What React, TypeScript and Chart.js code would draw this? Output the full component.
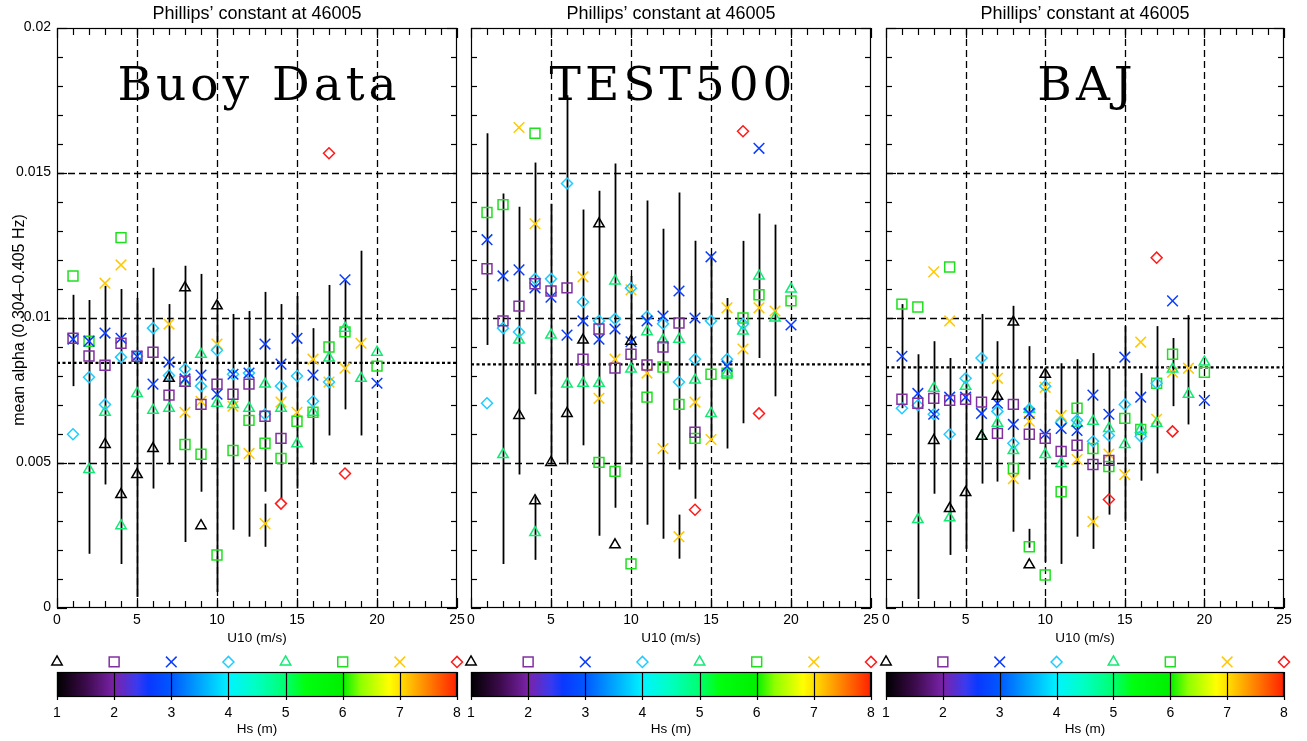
import React, { useEffect, useRef } from "react";
import { Chart, registerables } from "chart.js";

Chart.register(...registerables);

type P = [number, number];
type Bar = [number, number, number];

// ---------------- DATA ----------------
const U10_TICKS = [0, 5, 10, 15, 20, 25];
const U10_GRID = [5, 10, 15, 20];
const ALPHA_TICKS = [0, 0.005, 0.01, 0.015, 0.02];
const ALPHA_TICK_LABELS = ["0", "0.005", "0.01", "0.015", "0.02"];
const ALPHA_GRID = [0.005, 0.01, 0.015];
const HS_LEVELS = [1, 2, 3, 4, 5, 6, 7, 8];
const HS_TICK_LABELS = ["1", "2", "3", "4", "5", "6", "7", "8"];
const PANEL_TITLE = "Phillips\u2019 constant at 46005";

// Buoy Data
const buoyHs1: P[] = [[3,0.00564],[4,0.00391],[5,0.0046],[6,0.0055],[7,0.00792],[8,0.01104],[9,0.00284],[10,0.01042]];
const buoyHs2: P[] = [[1,0.0093],[2,0.00869],[3,0.00837],[4,0.00913],[5,0.00868],[6,0.00882],[7,0.00734],[8,0.00782],[9,0.00702],[10,0.00772],[11,0.00737],[12,0.00772],[13,0.00661],[14,0.00585]];
const buoyHs3: P[] = [[1,0.00927],[2,0.0092],[3,0.00948],[4,0.0093],[5,0.00868],[6,0.00772],[7,0.00848],[8,0.0079],[9,0.00803],[10,0.00737],[11,0.00806],[12,0.0081],[13,0.0091],[14,0.00841],[15,0.0093],[16,0.00803],[18,0.01132],[20,0.00775]];
const buoyHs4: P[] = [[1,0.00599],[2,0.00796],[3,0.00702],[4,0.00865],[5,0.00868],[6,0.00965],[7,0.00802],[8,0.00824],[9,0.00765],[10,0.00889],[11,0.00806],[12,0.0081],[13,0.00668],[14,0.00765],[15,0.008],[16,0.00713],[17,0.00779]];
const buoyHs5: P[] = [[2,0.00478],[3,0.00675],[4,0.00284],[5,0.0074],[6,0.00682],[7,0.00689],[8,0.00775],[9,0.00875],[10,0.00706],[11,0.00702],[12,0.00689],[13,0.00772],[14,0.00689],[15,0.00566],[16,0.00675],[17,0.00862],[18,0.00965],[19,0.00792],[20,0.00882]];
const buoyHs6: P[] = [[1,0.01145],[2,0.0092],[4,0.01277],[8,0.00564],[9,0.0053],[10,0.00183],[11,0.00543],[12,0.00647],[13,0.00568],[14,0.00516],[15,0.00644],[16,0.00675],[17,0.009],[18,0.00952],[20,0.00834]];
const buoyHs7: P[] = [[3,0.0112],[4,0.01183],[7,0.00979],[8,0.00675],[9,0.00713],[10,0.0091],[11,0.00696],[12,0.00533],[13,0.00291],[14,0.0071],[15,0.00675],[16,0.00858],[17,0.00779],[18,0.00827],[19,0.00913]];
const buoyHs8: P[] = [[14,0.0036],[17,0.01568],[18,0.00464]];
const buoyBars: Bar[] = [[1,0.00765,0.0108],[2,0.00187,0.01062],[3,0.00426,0.01111],[4,0.00152,0.011],[5,0.00038,0.01069],[6,0.00412,0.01173],[7,0.00495,0.01048],[8,0.00228,0.0118],[9,0.00401,0.01152],[10,0.00055,0.01059],[11,0.0027,0.01014],[12,0.00246,0.01024],[13,0.00401,0.0109],[14,0.00377,0.01048],[15,0.00412,0.01076],[16,0.00495,0.00965],[17,0.00595,0.01114],[18,0.00685,0.01131],[19,0.00595,0.01232]];
const buoyBarsExtra: Bar[] = [[13,0.00211,0.0036]];
const buoyMean = 0.00845;

// TEST500
const testHs1: P[] = [[3,0.00664],[4,0.0037],[5,0.00502],[6,0.00671],[7,0.00924],[8,0.01325],[9,0.00218],[10,0.0092]];
const testHs2: P[] = [[1,0.0117],[2,0.0099],[3,0.01041],[4,0.01118],[5,0.01093],[6,0.01104],[7,0.00858],[8,0.00962],[9,0.00827],[10,0.00875],[11,0.00838],[12,0.009],[13,0.00983],[14,0.00606]];
const testHs3: P[] = [[1,0.0127],[2,0.01145],[3,0.01166],[4,0.01104],[5,0.01072],[6,0.00941],[7,0.0099],[8,0.00927],[9,0.00962],[10,0.00918],[11,0.0099],[12,0.01007],[13,0.01093],[14,0.01],[15,0.01211],[16,0.00834],[18,0.01585],[20,0.00976]];
const testHs4: P[] = [[1,0.00706],[2,0.00965],[3,0.00952],[4,0.01135],[5,0.01135],[6,0.01464],[7,0.01055],[8,0.0099],[9,0.00997],[10,0.01103],[11,0.01005],[12,0.0098],[13,0.00779],[14,0.00858],[15,0.0099],[16,0.00858],[17,0.0098]];
const testHs5: P[] = [[2,0.00529],[3,0.00924],[4,0.0026],[5,0.00941],[6,0.00772],[7,0.00775],[8,0.00775],[9,0.01128],[10,0.00824],[11,0.00953],[12,0.00924],[13,0.00927],[14,0.00786],[15,0.00671],[16,0.0081],[17,0.00955],[18,0.01145],[19,0.01],[20,0.011]];
const testHs6: P[] = [[1,0.01364],[2,0.01391],[4,0.01637],[8,0.00502],[9,0.00471],[10,0.00152],[11,0.00727],[12,0.00831],[13,0.00702],[14,0.00585],[15,0.00806],[16,0.0081],[17,0.01],[18,0.0108],[20,0.01059]];
const testHs7: P[] = [[3,0.01657],[4,0.01325],[7,0.01142],[8,0.00723],[9,0.00858],[10,0.01097],[11,0.0081],[12,0.0055],[13,0.00246],[14,0.0071],[15,0.00581],[16,0.01035],[17,0.00893],[18,0.01035],[19,0.01024]];
const testHs8: P[] = [[14,0.00339],[17,0.01644],[18,0.00671]];
const testBars: Bar[] = [[1,0.00907,0.01637],[2,0.00152,0.01429],[3,0.0046,0.01384],[4,0.00737,0.01536],[5,0.00495,0.01394],[6,0.00495,0.01768],[7,0.00561,0.01374],[8,0.00249,0.01439],[9,0.00346,0.01533],[10,0.00495,0.01145],[11,0.00287,0.01405],[12,0.00239,0.01308],[13,0.00478,0.01433],[14,0.00377,0.01266],[15,0.00574,0.01221],[16,0.0055,0.01069],[17,0.00637,0.01266],[18,0.00862,0.0136],[19,0.0073,0.01322]];
const testBarsExtra: Bar[] = [[4,0.00166,0.00384],[13,0.0017,0.00322]];
const testMean = 0.0084;

// BAJ
const bajHs1: P[] = [[3,0.00578],[4,0.00343],[5,0.00398],[6,0.00592],[7,0.0073],[8,0.00986],[9,0.00149],[10,0.00806]];
const bajHs2: P[] = [[1,0.0072],[2,0.00706],[3,0.00723],[4,0.00716],[5,0.0072],[6,0.0071],[7,0.00602],[8,0.00702],[9,0.00599],[10,0.00585],[11,0.0054],[12,0.00561],[13,0.00495],[14,0.00509]];
const bajHs3: P[] = [[1,0.00868],[2,0.0074],[3,0.00668],[4,0.00727],[5,0.00727],[6,0.00671],[7,0.00706],[8,0.00633],[9,0.00671],[10,0.00599],[11,0.00619],[12,0.00612],[13,0.00734],[14,0.00668],[15,0.00865],[16,0.00727],[18,0.01059],[20,0.00716]];
const bajHs4: P[] = [[1,0.00689],[2,0.00699],[3,0.00668],[4,0.00599],[5,0.00792],[6,0.00862],[7,0.00678],[8,0.00568],[9,0.00685],[10,0.00765],[11,0.0064],[12,0.00647],[13,0.00575],[14,0.00595],[15,0.00702],[16,0.00592],[17,0.00775]];
const bajHs5: P[] = [[2,0.00305],[3,0.00758],[4,0.00311],[5,0.00765],[6,0.00592],[7,0.00637],[8,0.00543],[9,0.00685],[10,0.00529],[11,0.00498],[12,0.00637],[13,0.00644],[14,0.00619],[15,0.00564],[16,0.00616],[17,0.00637],[18,0.00824],[19,0.00737],[20,0.00848]];
const bajHs6: P[] = [[1,0.01048],[2,0.01038],[4,0.01176],[8,0.00481],[9,0.00211],[10,0.00114],[11,0.00401],[12,0.00689],[13,0.0055],[14,0.00488],[15,0.00654],[16,0.00616],[17,0.00775],[18,0.00875],[20,0.00813]];
const bajHs7: P[] = [[3,0.01159],[4,0.0099],[7,0.00792],[8,0.00446],[9,0.00644],[10,0.00761],[11,0.00664],[12,0.00512],[13,0.00298],[14,0.00531],[15,0.0046],[16,0.00917],[17,0.00651],[18,0.00813],[19,0.00827]];
const bajHs8: P[] = [[14,0.00374],[17,0.01208],[18,0.00609]];
const bajBars: Bar[] = [[1,0.00689,0.01048],[2,0.00031,0.00875],[3,0.00394,0.0092],[4,0.00183,0.00862],[5,0.00204,0.00806],[6,0.00429,0.01014],[7,0.00436,0.0092],[8,0.00263,0.01042],[9,0.00443,0.00903],[10,0.00159,0.00817],[11,0.00152,0.00844],[12,0.00246,0.00858],[13,0.00204,0.00879],[14,0.00322,0.00827],[15,0.00298,0.00972],[16,0.00439,0.0081],[17,0.00464,0.00972],[18,0.00696,0.00931],[19,0.00633,0.0101]];
const bajBarsExtra: Bar[] = [[9,0.00208,0.00273]];
const bajMean = 0.0083;

// ---------------- STYLE ----------------
const W = 1307;
const H = 741;
const PLOT_TOP = 28;
const PLOT_BOTTOM = 608;
const CBAR_AREA_TOP = 650;
const CBAR_BOTTOM = 696;
const CBAR_HEIGHT = 24;
const SANS = '"Liberation Sans", Arial, Helvetica, sans-serif';

const HS_COLORS = ["#000000", "#8030a0", "#0a3cff", "#20ccff", "#12ea74", "#1ee01e", "#ffc800", "#ff1a1a"];
const HS_SHAPES = ["triangle", "rect", "crossRot", "rectRot", "triangle", "rect", "crossRot", "rectRot"];
const HS_RADII = [6, 7, 7.5, 5.5, 6, 7, 7.5, 5.5];

const PANELS = [
  { name: "Buoy Data", left: 57, right: 457, series: [buoyHs1, buoyHs2, buoyHs3, buoyHs4, buoyHs5, buoyHs6, buoyHs7, buoyHs8], bars: buoyBars, extra: buoyBarsExtra, mean: buoyMean, yLabels: true },
  { name: "TEST500", left: 471, right: 871, series: [testHs1, testHs2, testHs3, testHs4, testHs5, testHs6, testHs7, testHs8], bars: testBars, extra: testBarsExtra, mean: testMean, yLabels: false },
  { name: "BAJ", left: 886, right: 1284, series: [bajHs1, bajHs2, bajHs3, bajHs4, bajHs5, bajHs6, bajHs7, bajHs8], bars: bajBars, extra: bajBarsExtra, mean: bajMean, yLabels: false },
];

type Panel = (typeof PANELS)[number];

function line(ctx: CanvasRenderingContext2D, x1: number, y1: number, x2: number, y2: number) {
  ctx.beginPath();
  ctx.moveTo(x1, y1);
  ctx.lineTo(x2, y2);
  ctx.stroke();
}

function makePanelPlugin(p: Panel) {
  return {
    id: "panelDecor",
    beforeDatasetsDraw(chart: any) {
      const ctx: CanvasRenderingContext2D = chart.ctx;
      const xs = chart.scales.x;
      const ys = chart.scales.y;
      const { left, right, top, bottom } = chart.chartArea;
      ctx.save();
      ctx.strokeStyle = "#000";
      ctx.lineWidth = 1.3;
      ctx.setLineDash([7, 4]);
      for (const g of U10_GRID) {
        const px = Math.round(xs.getPixelForValue(g)) + 0.5;
        line(ctx, px, top, px, bottom);
      }
      for (const g of ALPHA_GRID) {
        const py = Math.round(ys.getPixelForValue(g)) + 0.5;
        line(ctx, left, py, right, py);
      }
      ctx.setLineDash([3, 2.5]);
      ctx.lineWidth = 2.2;
      const my = ys.getPixelForValue(p.mean);
      line(ctx, left, my, right, my);
      ctx.setLineDash([]);
      ctx.lineWidth = 1.8;
      for (const [x, lo, hi] of [...p.bars, ...p.extra]) {
        const px = Math.round(xs.getPixelForValue(x)) + 0.5;
        line(ctx, px, ys.getPixelForValue(lo), px, ys.getPixelForValue(hi));
      }
      ctx.restore();
    },
    afterDraw(chart: any) {
      const ctx: CanvasRenderingContext2D = chart.ctx;
      const xs = chart.scales.x;
      const ys = chart.scales.y;
      const { left, right, top, bottom } = chart.chartArea;
      ctx.save();
      ctx.strokeStyle = "#000";
      ctx.lineWidth = 1.2;
      ctx.strokeRect(left + 0.5, top + 0.5, right - left - 1, bottom - top - 1);
      for (let v = 0; v <= 25; v++) {
        const len = v % 5 === 0 ? 10 : 7;
        const px = Math.round(xs.getPixelForValue(v)) + 0.5;
        line(ctx, px, bottom, px, bottom - len);
        line(ctx, px, top, px, top + len);
      }
      for (let i = 0; i <= 20; i++) {
        const v = i * 0.001;
        const len = i % 5 === 0 ? 10 : 6;
        const py = Math.round(ys.getPixelForValue(v)) + 0.5;
        line(ctx, left, py, left + len, py);
        line(ctx, right, py, right - len, py);
      }
      ctx.fillStyle = "#000";
      ctx.font = `14px ${SANS}`;
      ctx.textAlign = "center";
      ctx.textBaseline = "middle";
      U10_TICKS.forEach((v) => ctx.fillText(String(v), xs.getPixelForValue(v), 620));
      ctx.font = `13.5px ${SANS}`;
      ctx.fillText("U10 (m/s)", (left + right) / 2, 638);
      ctx.font = `18px ${SANS}`;
      ctx.fillText(PANEL_TITLE, (left + right) / 2, 14);
      if (p.yLabels) {
        ctx.font = `14px ${SANS}`;
        ctx.textAlign = "right";
        ALPHA_TICKS.forEach((v, i) => ctx.fillText(ALPHA_TICK_LABELS[i], left - 6, ys.getPixelForValue(v) - 1));
        ctx.save();
        ctx.translate(20, 320);
        ctx.rotate(-Math.PI / 2);
        ctx.textAlign = "center";
        ctx.font = `16px ${SANS}`;
        ctx.fillText("mean alpha (0.304\u20130.405 Hz)", 0, 0);
        ctx.restore();
      }
      ctx.font = `47px "DejaVu Serif", "Liberation Serif", serif`;
      ctx.textAlign = "center";
      ctx.textBaseline = "alphabetic";
      try { (ctx as any).letterSpacing = "4px"; } catch (e) {}
      ctx.fillText(p.name, (left + right) / 2 + 2, 100);
      try { (ctx as any).letterSpacing = "0px"; } catch (e) {}
      ctx.restore();
    },
  };
}

const CBAR_STOPS: [number, string][] = [
  [0, "#000000"], [0.07, "#3a0a48"], [0.143, "#7a22a8"], [0.2, "#3a3af0"], [0.23, "#0a38ff"],
  [0.286, "#0058ff"], [0.43, "#00f4ff"], [0.5, "#00ffc0"], [0.571, "#00ff70"], [0.62, "#00ff10"],
  [0.714, "#00f000"], [0.76, "#90ff00"], [0.83, "#ffff00"], [0.857, "#ffe000"], [1, "#ff2000"],
];

const cbarPlugin = {
  id: "cbarDecor",
  beforeDatasetsDraw(chart: any) {
    const ctx: CanvasRenderingContext2D = chart.ctx;
    const xs = chart.scales.x;
    const ys = chart.scales.y;
    const x1 = xs.getPixelForValue(1);
    const x8 = xs.getPixelForValue(8);
    const yT = ys.getPixelForValue(1);
    const yB = ys.getPixelForValue(0);
    ctx.save();
    const g = ctx.createLinearGradient(x1, 0, x8, 0);
    CBAR_STOPS.forEach(([t, c]) => g.addColorStop(t, c));
    ctx.fillStyle = g;
    ctx.fillRect(x1, yT, x8 - x1, yB - yT);
    ctx.strokeStyle = "#000";
    ctx.lineWidth = 1.2;
    for (const v of HS_LEVELS) {
      const px = Math.round(xs.getPixelForValue(v)) + 0.5;
      line(ctx, px, yT, px, yB + 4);
    }
    ctx.strokeRect(x1 + 0.5, yT + 0.5, x8 - x1 - 1, yB - yT);
    ctx.fillStyle = "#000";
    ctx.font = `14px ${SANS}`;
    ctx.textAlign = "center";
    ctx.textBaseline = "middle";
    HS_LEVELS.forEach((v, i) => ctx.fillText(HS_TICK_LABELS[i], xs.getPixelForValue(v), yB + 17));
    ctx.font = `13.5px ${SANS}`;
    ctx.fillText("Hs (m)", (x1 + x8) / 2, yB + 33);
    ctx.restore();
  },
};

function pointDataset(pts: P[], i: number) {
  return {
    data: pts.map(([x, y]) => ({ x, y })),
    pointStyle: HS_SHAPES[i] as any,
    pointRadius: HS_RADII[i],
    pointBorderWidth: 1.5,
    pointBorderColor: HS_COLORS[i],
    pointBackgroundColor: "rgba(0,0,0,0)",
    borderColor: HS_COLORS[i],
    backgroundColor: "rgba(0,0,0,0)",
    showLine: false,
    clip: false as any,
  };
}

function PanelChart({ p }: { p: Panel }) {
  const ref = useRef<HTMLCanvasElement>(null);
  useEffect(() => {
    if (!ref.current) return;
    const chart = new Chart(ref.current, {
      type: "scatter",
      data: { datasets: p.series.map((s, i) => pointDataset(s, i)) as any },
      options: {
        responsive: false,
        animation: false,
        events: [],
        layout: { padding: { left: p.left, right: W - p.right, top: PLOT_TOP, bottom: H - PLOT_BOTTOM } },
        scales: {
          x: { type: "linear", min: 0, max: 25, display: false },
          y: { type: "linear", min: 0, max: 0.02, display: false },
        },
        plugins: { legend: { display: false }, tooltip: { enabled: false } },
      },
      plugins: [makePanelPlugin(p)],
    });
    return () => chart.destroy();
  }, [p]);
  return <canvas ref={ref} width={W} height={H} style={{ position: "absolute", left: 0, top: 0, width: W, height: H }} />;
}

// colour bar: y = 0..1 is the bar itself, marker row sits above it
const CBAR_Y_MAX = (CBAR_BOTTOM - CBAR_AREA_TOP) / CBAR_HEIGHT;
const CBAR_MARKER_Y = 1.42;

function ColorBar({ p }: { p: Panel }) {
  const ref = useRef<HTMLCanvasElement>(null);
  useEffect(() => {
    if (!ref.current) return;
    const chart = new Chart(ref.current, {
      type: "scatter",
      data: {
        datasets: HS_LEVELS.map((lv, i) => pointDataset([[lv, CBAR_MARKER_Y]], i)) as any,
      },
      options: {
        responsive: false,
        animation: false,
        events: [],
        layout: { padding: { left: p.left, right: W - p.right, top: CBAR_AREA_TOP, bottom: H - CBAR_BOTTOM } },
        scales: {
          x: { type: "linear", min: 1, max: 8, display: false },
          y: { type: "linear", min: 0, max: CBAR_Y_MAX, display: false },
        },
        plugins: { legend: { display: false }, tooltip: { enabled: false } },
      },
      plugins: [cbarPlugin],
    });
    return () => chart.destroy();
  }, [p]);
  return <canvas ref={ref} width={W} height={H} style={{ position: "absolute", left: 0, top: 0, width: W, height: H }} />;
}

export default function App() {
  return (
    <div style={{ position: "absolute", left: 0, top: 0, width: W, height: H, background: "#fff", overflow: "hidden" }}>
      {PANELS.map((p) => (
        <React.Fragment key={p.name}>
          <PanelChart p={p} />
          <ColorBar p={p} />
        </React.Fragment>
      ))}
    </div>
  );
}
